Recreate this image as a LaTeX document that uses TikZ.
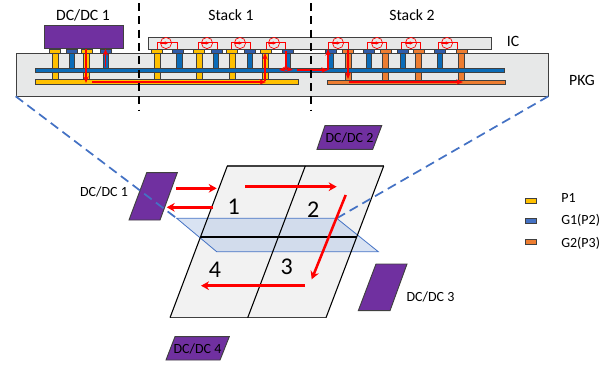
\documentclass[tikz,border=0pt]{standalone}
\usepackage{fontspec}
\setmainfont{Carlito}
\usetikzlibrary{arrows.meta, calc}
\definecolor{cPurple}{RGB}{112,48,160}
\definecolor{cYellow}{RGB}{255,192,0}
\definecolor{cBlue}{RGB}{11,108,184}
\definecolor{cPadBlue}{RGB}{47,92,170}
\definecolor{cOrange}{RGB}{237,125,49}
\definecolor{cBody}{RGB}{231,232,232}
\definecolor{cChip}{RGB}{242,242,242}
\definecolor{cPlane}{RGB}{180,199,231}
\definecolor{cEdge}{RGB}{64,64,64}
\definecolor{cLink}{RGB}{68,114,196}
\tikzset{
  basebox/.style={rectangle, draw=cEdge, inner sep=0pt, line width=0.5pt},
  bodybox/.style={basebox, fill=cBody},
  padnode/.style={basebox, minimum width=8.4pt, minimum height=3pt},
  railnode/.style={basebox, line width=0.35pt, minimum height=3.6pt},
  via/.style={draw=cEdge, line width=0.3pt},
  label/.style={inner sep=0pt, font=\fontsize{10.5}{12}\selectfont},
  biglabel/.style={inner sep=0pt, font=\fontsize{11.8}{13}\selectfont},
  numlabel/.style={inner sep=0pt, font=\fontsize{18}{20}\selectfont},
  converter/.style={draw=cEdge, fill=cPurple, line width=0.7pt},
  cutline/.style={black, line width=1.1pt, dash pattern=on 6pt off 4pt},
  linkline/.style={cLink, line width=1.3pt, dash pattern=on 7pt off 4pt},
  flow/.style={-{Stealth[length=5pt,width=4pt]}, red, line width=0.9pt},
  bigflow/.style={-{Stealth[length=6pt,width=6.5pt]}, red, line width=1.9pt},
  loopline/.style={red, line width=0.5pt}
}
\begin{document}
\begin{tikzpicture}[x=0.75pt, y=-0.75pt]
  \useasboundingbox (0,0) rectangle (613,364);

  % package cross section
  \node[bodybox, minimum width=399pt, minimum height=32.2pt] (pkg) at (282,74.5) {};
  \node[bodybox, minimum width=257pt, minimum height=9pt] (ic) at (319.5,43.5) {};
  \node[basebox, fill=cPurple, minimum width=59.6pt, minimum height=17.2pt] (dc1box) at (83.7,36.5) {};

  \foreach \x in {55,86.5,157.5,199.5,232.5,265.5}
    \draw[via, fill=cYellow] (\x-3,53) rectangle (\x+3,80);
  \foreach \x in {348.5,385,418.5,461}
    \draw[via, fill=cOrange] (\x-3,53) rectangle (\x+3,80);
  \foreach \x in {71.5,105.5,179,215.5,249.5,287.5,330,368.5,402.5,439.5}
    \draw[via, fill=cBlue] (\x-2.8,53) rectangle (\x+2.8,69);

  \node[railnode, fill=cBlue, minimum width=352pt] (g1rail) at (270,70.2) {};
  \node[railnode, fill=cYellow, minimum width=197pt] (p1rail) at (166.5,81.7) {};
  \node[railnode, fill=cOrange, minimum width=133.5pt] (g2rail) at (416,82.2) {};

  \foreach \x [count=\i] in {55,87,157,198.5,232,266}
    \node[padnode, fill=cYellow] (ypad\i) at (\x,51) {};
  \foreach \x [count=\i] in {348,385.5,419,461.5}
    \node[padnode, fill=cOrange] (opad\i) at (\x,51) {};
  \foreach \x [count=\i] in {71.5,105.5,178,216.5,250,287.5,330.5,369,403,440}
    \node[padnode, fill=cPadBlue] (bpad\i) at (\x,51) {};

  % current loops on the die
  \foreach \c/\a/\b in {166/157/177, 207/198/217, 240/231/250, 274/266/285,
                        338/328/348, 377/367/386, 411/401/420, 447/438/457} {
    \draw[loopline] (\a,49) -- (\a,42) -- (\b,42) -- (\b,49);
    \draw[loopline] (\c,43) circle (5.6);
    \draw[red, line width=0.5pt, -{Stealth[length=2.5pt,width=2.5pt]}] (\c-5,43) -- (\c+2,43);
  }

  \coordinate (a0) at (86,49);   \coordinate (a1) at (86,83);
  \coordinate (a2) at (92,82);   \coordinate (a3) at (266,82);
  \coordinate (a4) at (265,81);  \coordinate (a5) at (265,53);
  \coordinate (a6) at (105.5,67); \coordinate (a7) at (105.5,49);
  \coordinate (b0) at (286,51);  \coordinate (b1) at (286,69);
  \coordinate (b2) at (279,70);  \coordinate (b3) at (293,70);
  \coordinate (b4) at (297,70);  \coordinate (b5) at (328,70);
  \coordinate (b6) at (328,70);  \coordinate (b7) at (328,49);
  \coordinate (c0) at (348,50);  \coordinate (c1) at (348,79);
  \coordinate (c2) at (349,82);  \coordinate (c3) at (463,82);
  \draw[flow] (a0) -- (a1);
  \draw[flow] (a2) -- (a3);
  \draw[flow] (a4) -- (a5);
  \draw[flow] (a6) -- (a7);
  \draw[red, line width=0.9pt] (b0) -- (b1);
  \draw[flow] (b1) -- (b2);
  \draw[flow] (b1) -- (b3);
  \draw[flow] (b4) -- (b5);
  \draw[flow] (b6) -- (b7);
  \draw[flow] (c0) -- (c1);
  \draw[flow] (c2) -- (c3);

  \coordinate (cutA0) at (139,3);   \coordinate (cutA1) at (139,110);
  \coordinate (cutB0) at (311,3);   \coordinate (cutB1) at (311,110);
  \draw[cutline] (cutA0) -- (cutA1);
  \draw[cutline] (cutB0) -- (cutB1);

  \node[biglabel] (dc1top) at (83,15) {DC/DC 1};
  \node[biglabel] (stack1) at (231,15.5) {Stack 1};
  \node[biglabel] (stack2) at (412,15.5) {Stack 2};
  \node[biglabel] (iclabel) at (513,41.5) {IC};
  \node[biglabel] (pkglabel) at (582,80.5) {PKG};

  % top view
  \coordinate (tl) at (227.3,166);   \coordinate (tm) at (305.3,166);
  \coordinate (tr) at (383.7,166);   \coordinate (br) at (326,317.7);
  \coordinate (bm) at (247.7,317.7); \coordinate (bl) at (170,317.7);
  \coordinate (ml) at (200.3,237);   \coordinate (mr) at (356.7,237);
  \coordinate (p1) at (176.7,218.3); \coordinate (p2) at (336.7,218.3);
  \coordinate (p3) at (378.3,251.7); \coordinate (p4) at (216.7,251.7);

  \fill[cChip] (tl) -- (tr) -- (br) -- (bl) -- cycle;
  \draw[cLink, fill=cPlane, fill opacity=0.5, line width=0.6pt] (p1) -- (p2) -- (p3) -- (p4) -- cycle;
  \draw[cEdge, line width=0.9pt] (bl) -- (br);
  \draw[cEdge, line width=0.9pt] (tl) -- (tr);
  \draw[black, line width=0.8pt] (tl) -- (bl);
  \draw[black, line width=0.8pt] (tr) -- (br);
  \draw[black, line width=0.8pt] (tm) -- (bm);
  \draw[black, line width=1.1pt] (ml) -- (mr);

  \draw[converter] (146.7,172.7) -- (177.3,172.7) -- (160,220) -- (129,220) -- cycle;
  \draw[converter] (325,125.7) -- (381.7,125.7) -- (372.7,149.3) -- (317,149.3) -- cycle;
  \draw[converter] (376,264) -- (407,264) -- (390,310.7) -- (358.3,310.7) -- cycle;
  \draw[converter] (175,336.7) -- (229.3,336.7) -- (220,360) -- (166,360) -- cycle;

  \draw[linkline] (pkg.south west) -- (p1);
  \draw[linkline] (pkg.south east) -- (p2);

  \coordinate (f0) at (176,188.3);   \coordinate (f1) at (216.7,188.3);
  \coordinate (f2) at (212.7,207.3); \coordinate (f3) at (166.7,207.3);
  \coordinate (f4) at (245,186.7);   \coordinate (f5) at (336.7,186.7);
  \coordinate (f6) at (345.7,195);   \coordinate (f7) at (311.7,279.3);
  \coordinate (f8) at (305,285.7);   \coordinate (f9) at (201,285.7);
  \draw[bigflow] (f0) -- (f1);
  \draw[bigflow] (f2) -- (f3);
  \draw[bigflow] (f4) -- (f5);
  \draw[bigflow] (f6) -- (f7);
  \draw[bigflow] (f8) -- (f9);

  \node[numlabel] (num1) at (233.7,206.5) {1};
  \node[numlabel] (num2) at (313.3,209.5) {2};
  \node[numlabel] (num3) at (286.7,267) {3};
  \node[numlabel] (num4) at (215,269.5) {4};

  \node[label] (dc1) at (104,192) {DC/DC 1};
  \node[label] (dc2) at (349.5,138) {DC/DC 2};
  \node[label] (dc3) at (430.5,297) {DC/DC 3};
  \node[label] (dc4) at (197.5,349) {DC/DC 4};

  % legend
  \node[basebox, fill=cYellow, minimum width=8.6pt, minimum height=3.6pt] (keyP1) at (531,201) {};
  \node[basebox, fill=cLink, minimum width=8.6pt, minimum height=3.6pt] (keyG1) at (531,220.7) {};
  \node[basebox, fill=cOrange, minimum width=8.6pt, minimum height=3.6pt] (keyG2) at (531,242) {};
  \node[label, anchor=west] (txtP1) at (561,197.5) {P1};
  \node[label, anchor=west] (txtG1) at (561,220.5) {G1(P2)};
  \node[label, anchor=west] (txtG2) at (561,243.5) {G2(P3)};
\end{tikzpicture}
\end{document}
